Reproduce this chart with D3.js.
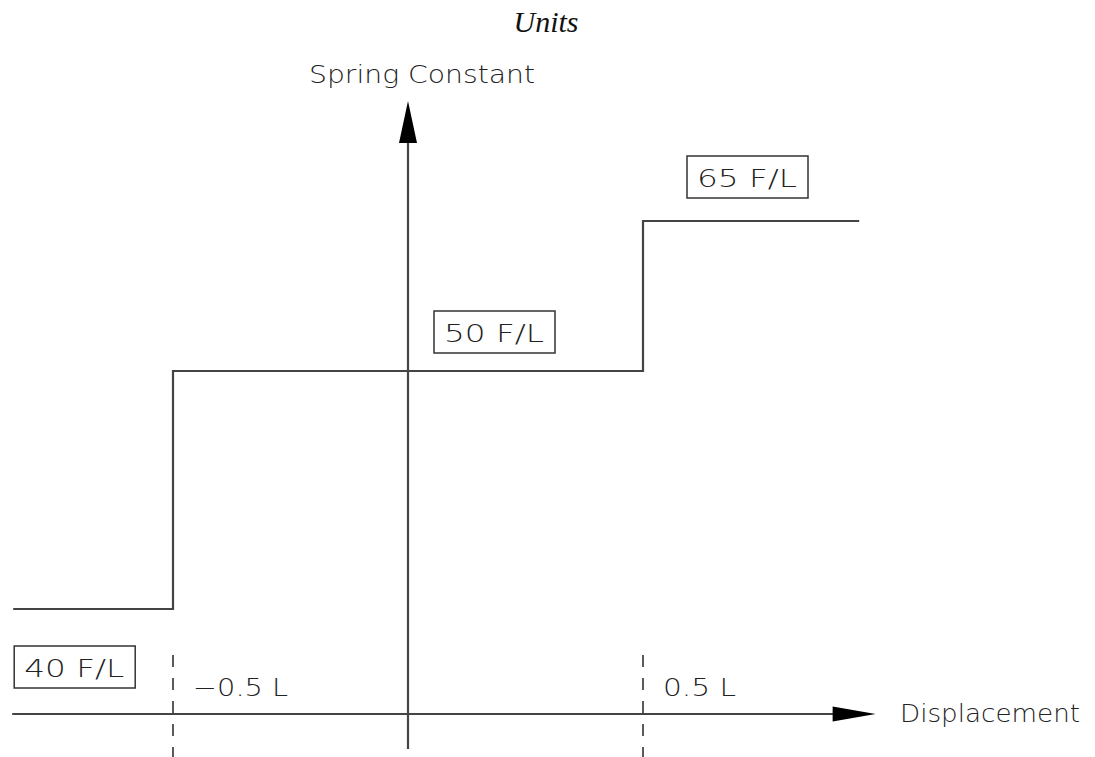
<!DOCTYPE html>
<html>
<head>
<meta charset="utf-8">
<script src="https://cdn.jsdelivr.net/npm/d3@7"></script>
<style>
  body { margin: 0; background: #fff; }
  .cad { font-family: "DejaVu Sans", sans-serif; font-weight: 200; fill: #222; }
</style>
</head>
<body>
<div id="chart"></div>
<script>
// step zones (displacement in L) and spring constants (F/L)
const zoneStart = [-0.84, -0.5, 0.5];
const zoneEnd = [-0.5, 0.5, 0.96];
const springK = [40, 50, 65];
const kLabels = ["40 F/L", "50 F/L", "65 F/L"];
const boundaryX = [-0.5, 0.5];
const boundaryLabels = ["\u22120.5 L", "0.5 L"];
const axisExtent = [-0.84, 0.995];

const width = 1095, height = 757;

const svg = d3.select('#chart')
    .append('svg')
    .attr('width', width)
    .attr('height', height);

// drawing is not to scale, so the k axis is piecewise
const x = d3.scaleLinear().domain([-0.5, 0.5]).range([173, 643]);
const y = d3.scaleLinear().domain([40, 50, 65]).range([609, 371, 221]);
const axisY = 714;
const lineColor = '#444';

svg.append('text')
    .attr('x', 546)
    .attr('y', 32)
    .attr('text-anchor', 'middle')
    .style('font-family', '"Liberation Serif", serif')
    .style('font-style', 'italic')
    .style('font-size', '30px')
    .style('fill', '#111')
    .text('Units');

// step line
const pts = [];
zoneStart.forEach((s, i) => {
    pts.push([s, springK[i]]);
    pts.push([zoneEnd[i], springK[i]]);
});
svg.append('path')
    .attr('d', d3.line().x(d => x(d[0])).y(d => y(d[1]))(pts))
    .attr('fill', 'none')
    .attr('stroke', lineColor)
    .attr('stroke-width', 2.2);

// displacement axis
svg.append('line')
    .attr('x1', x(axisExtent[0]) - 1).attr('x2', x(axisExtent[1]) - 40)
    .attr('y1', axisY).attr('y2', axisY)
    .attr('stroke', lineColor).attr('stroke-width', 2.2);
const xTip = x(axisExtent[1]);
svg.append('path')
    .attr('d', `M${xTip},${axisY} L${xTip - 43},${axisY - 7.5} L${xTip - 43},${axisY + 7.5} Z`)
    .attr('fill', '#000');

// spring constant axis
const x0 = x(0);
svg.append('line')
    .attr('x1', x0).attr('x2', x0)
    .attr('y1', 749).attr('y2', 140)
    .attr('stroke', lineColor).attr('stroke-width', 2.2);
svg.append('path')
    .attr('d', `M${x0},101 L${x0 - 9},143 L${x0 + 9},143 Z`)
    .attr('fill', '#000');

svg.append('text')
    .attr('class', 'cad')
    .attr('x', 309).attr('y', 83)
    .attr('textLength', 226).attr('lengthAdjust', 'spacingAndGlyphs')
    .style('font-size', '25px')
    .text('Spring Constant');

svg.append('text')
    .attr('class', 'cad')
    .attr('x', 900).attr('y', 722)
    .attr('textLength', 180).attr('lengthAdjust', 'spacingAndGlyphs')
    .style('font-size', '25px')
    .text('Displacement');

// dashed boundaries
svg.selectAll('.bound')
    .data(boundaryX)
    .enter()
    .append('line')
    .attr('class', 'bound')
    .attr('x1', d => x(d)).attr('x2', d => x(d))
    .attr('y1', 655).attr('y2', height)
    .attr('stroke', '#333')
    .attr('stroke-width', 1.6)
    .attr('stroke-dasharray', '12,11');

svg.selectAll('.bound-label')
    .data(boundaryX)
    .enter()
    .append('text')
    .attr('class', 'cad bound-label')
    .attr('x', d => x(d) + 20)
    .attr('y', axisY - 18)
    .attr('textLength', (d, i) => i === 0 ? 95 : 73)
    .attr('lengthAdjust', 'spacingAndGlyphs')
    .style('font-size', '25px')
    .text((d, i) => boundaryLabels[i]);

// boxed k labels (box top-left offsets from the zone start / level)
const boxOffset = [[1, 37], [261, -60], [44, -65]];
const boxW = 121, boxH = 42;
const boxes = svg.selectAll('.klabel')
    .data(springK)
    .enter()
    .append('g')
    .attr('class', 'klabel')
    .attr('transform', (d, i) => `translate(${x(zoneStart[i]) + boxOffset[i][0]},${y(d) + boxOffset[i][1]})`);

boxes.append('rect')
    .attr('width', boxW).attr('height', boxH)
    .attr('fill', 'none')
    .attr('stroke', '#333')
    .attr('stroke-width', 1.5);

boxes.append('text')
    .attr('class', 'cad')
    .attr('x', 10).attr('y', 31)
    .attr('textLength', 100).attr('lengthAdjust', 'spacingAndGlyphs')
    .style('font-size', '25px')
    .text((d, i) => kLabels[i]);
</script>
</body>
</html>
